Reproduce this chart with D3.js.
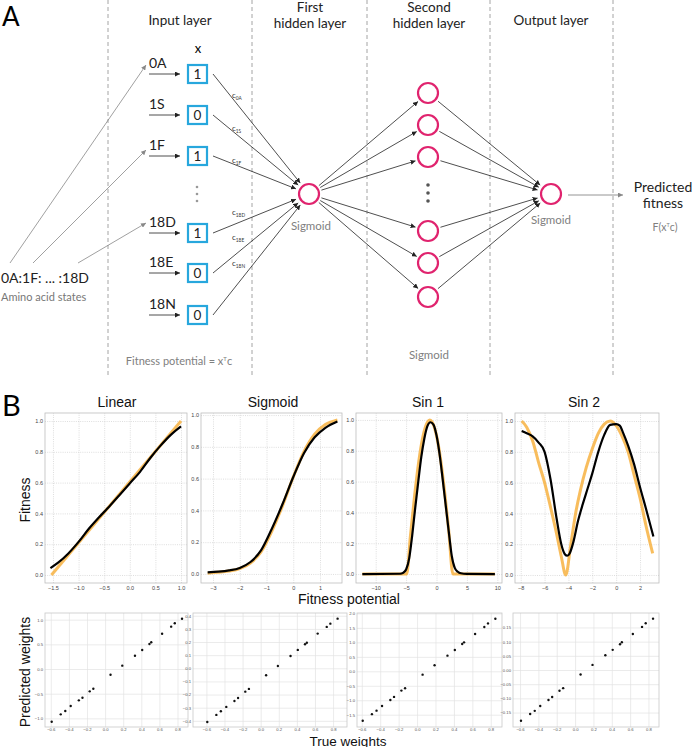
<!DOCTYPE html>
<html><head><meta charset="utf-8">
<script src="https://cdn.jsdelivr.net/npm/d3@7"></script>
<style>body{margin:0;background:#fff}svg{display:block}</style>
</head><body>
<script>
// ---------------- DATA ----------------
const layerTitles = [["Input layer"],["First","hidden layer"],["Second","hidden layer"],["Output layer"]];
const inputStates = ["0A","1S","1F","18D","18E","18N"];
const inputValues = [1,0,1,1,0,0];
const weightLabels = ["0A","1S","1F","18D","18E","18N"];
const hidden2Count = 6;

const panelTitles = ["Linear","Sigmoid","Sin 1","Sin 2"];
// Linear
const linX    = [-1.53, 1.0];
const linTrue = [0.0, 1.0];
const linPX   = [-1.55,-1.4,-1.2,-1.0,-0.8,-0.6,-0.4,-0.2,0.0,0.2,0.4,0.6,0.8,1.0];
const linPred = [0.045,0.08,0.14,0.215,0.30,0.375,0.445,0.52,0.595,0.67,0.76,0.84,0.91,0.965];
// Sigmoid
const sigX    = [-3.2,-2.8,-2.4,-2.0,-1.6,-1.2,-0.8,-0.4,0.0,0.4,0.8,1.2,1.65];
const sigTrue = [0.005,0.01,0.018,0.033,0.068,0.14,0.27,0.43,0.61,0.77,0.88,0.94,0.97];
const sigPred = [0.01,0.014,0.022,0.038,0.075,0.15,0.285,0.44,0.61,0.76,0.86,0.92,0.96];
// Sin 1
const s1TX    = [-12.2,-4.9,-4.3,-3.6,-2.9,-2.2,-1.5,-1.1,-0.7,0.0,0.7,1.4,2.0,2.7,9.6];
const s1True  = [0,0,0.245,0.51,0.736,0.898,0.985,1.0,0.985,0.898,0.736,0.51,0.285,0,0];
const s1PX    = [-12.2,-6,-5.5,-5,-4.5,-4,-3.5,-3,-2.5,-2,-1.5,-1,-0.5,0,0.5,1,1.5,2,2.5,3,3.5,4,5,9.6];
const s1Pred  = [0,0.002,0.008,0.03,0.1,0.25,0.43,0.6,0.76,0.88,0.96,0.985,0.97,0.9,0.78,0.62,0.45,0.28,0.12,0.04,0.015,0.005,0.001,0];
// Sin 2
const s2TX    = [-7.92,-7.5,-7.0,-6.5,-6.0,-5.5,-5.0,-4.6,-4.23,-3.8,-3.4,-3.0,-2.5,-2.0,-1.5,-1.0,-0.5,0.0,0.5,1.0,1.5,2.0,2.5,3.06];
const s2True  = [1.0,0.96,0.87,0.73,0.6,0.44,0.27,0.12,0.0,0.2,0.4,0.55,0.7,0.82,0.92,0.98,1.0,0.97,0.9,0.8,0.65,0.5,0.32,0.14];
const s2PX    = [-7.92,-7.5,-7.0,-6.5,-6.0,-5.5,-5.0,-4.6,-4.3,-4.1,-3.9,-3.6,-3.2,-2.8,-2.4,-2.0,-1.5,-1.0,-0.5,0.0,0.3,0.6,1.0,1.5,2.0,2.5,3.12];
const s2Pred  = [0.935,0.92,0.9,0.86,0.8,0.62,0.37,0.2,0.135,0.125,0.14,0.21,0.35,0.46,0.56,0.66,0.8,0.91,0.975,0.98,0.97,0.92,0.84,0.72,0.57,0.43,0.25];

const fitXDomains = [[-1.656,1.117],[-3.449,1.822],[-13.24,10.77],[-8.48,3.59]];
const fitYDomains = [[-0.052,1.052],[-0.057,1.013],[-0.058,1.045],[-0.052,1.052]];
const fitXTicks = [[-1.5,-1.0,-0.5,0.0,0.5,1.0],[-3,-2,-1,0,1],[-10,-5,0,5,10],[-8,-6,-4,-2,0,2]];
const fitYTicks = [0.0,0.2,0.4,0.6,0.8,1.0];

// Weights
const trueWeights = [-0.59,-0.49,-0.44,-0.38,-0.29,-0.25,-0.17,-0.13,0.06,0.19,0.33,0.41,0.49,0.51,0.63,0.73,0.77,0.85];
const predLinear  = [-1.068,-0.919,-0.851,-0.750,-0.635,-0.581,-0.453,-0.399,-0.115,0.068,0.270,0.385,0.507,0.541,0.716,0.858,0.926,1.020];
const predSigmoid = [-0.409,-0.355,-0.327,-0.294,-0.249,-0.226,-0.178,-0.157,-0.053,0.018,0.094,0.140,0.183,0.195,0.264,0.315,0.340,0.378];
const predSin1    = [-1.71,-1.48,-1.36,-1.20,-0.99,-0.885,-0.667,-0.586,-0.115,0.207,0.540,0.736,0.943,1.0,1.287,1.529,1.655,1.816];
const predSin2    = [-0.179,-0.155,-0.144,-0.127,-0.106,-0.095,-0.073,-0.064,-0.016,0.018,0.052,0.071,0.091,0.098,0.127,0.152,0.165,0.181];
const wXDomains = [[-0.664,0.916],[-0.748,0.954],[-0.652,0.922],[-0.677,0.915]];
const wYDomains = [[-1.175,1.135],[-0.447,0.421],[-1.924,2.014],[-0.201,0.201]];
const wXTicks = [-0.6,-0.4,-0.2,0.0,0.2,0.4,0.6,0.8];
const wYTicks = [[-1.0,-0.5,0.0,0.5,1.0],[-0.4,-0.3,-0.2,-0.1,0.0,0.1,0.2,0.3,0.4],[-1.5,-1.0,-0.5,0.0,0.5,1.0,1.5,2.0],[-0.15,-0.10,-0.05,0.0,0.05,0.10,0.15]];
const wYFormats = [".1f",".1f",".1f",".2f"];

// ---------------- DRAW ----------------
const W=693,H=747;
const svg=d3.select("body").append("svg").attr("width",W).attr("height",H);
const FA="Lato, 'Noto Sans', sans-serif";
const FB="'Liberation Sans', Arial, sans-serif";
const defs=svg.append("defs");
function marker(id,color){
  defs.append("marker").attr("id",id).attr("viewBox","0 0 6 6").attr("refX",6).attr("refY",3)
   .attr("markerWidth",5).attr("markerHeight",5).attr("markerUnits","userSpaceOnUse").attr("orient","auto")
   .append("path").attr("d","M0,0L6,3L0,6z").attr("fill",color);
}
marker("ab","#222"); marker("ag","#888");

// Panel A
svg.append("text").attr("x",2).attr("y",26).attr("font-family",FA).attr("font-size",26).text("A");
const dashX=[108,252,367,490,613];
svg.selectAll(".dash").data(dashX).join("line").attr("x1",d=>d).attr("x2",d=>d).attr("y1",0).attr("y2",376)
  .attr("stroke","#9a9a9a").attr("stroke-width",0.9).attr("stroke-dasharray","4,3");
const titleX=[180,310,429,551];
layerTitles.forEach((t,i)=>{
  const tx=svg.append("text").attr("font-family",FA).attr("font-size",13.5).attr("fill","#222").attr("text-anchor","middle");
  if(t.length===1) tx.append("tspan").attr("x",titleX[i]).attr("y",25).text(t[0]);
  else { tx.append("tspan").attr("x",titleX[i]).attr("y",12).text(t[0]); tx.append("tspan").attr("x",titleX[i]).attr("y",28).text(t[1]); }
});
svg.append("text").attr("x",198).attr("y",53).attr("text-anchor","middle").attr("font-family",FA).attr("font-size",13).text("x");

const rowY=d3.scaleOrdinal().domain(inputStates).range([74,115,156,233,273,315]);
const boxX=188, boxW=19, boxH=18;
const h1={x:309,y:194}, out={x:551,y:194}, r=10;
const h2Y=d3.scaleOrdinal().domain(d3.range(hidden2Count)).range([93,125,157,231,263,297]);
const h2X=428;

inputStates.forEach((s,i)=>{
  const y=rowY(s);
  svg.append("text").attr("x",149).attr("y",y-6).attr("font-family",FA).attr("font-size",14).attr("fill","#222").text(s);
  svg.append("line").attr("x1",149).attr("x2",180).attr("y1",y).attr("y2",y).attr("stroke","#222").attr("stroke-width",0.8).attr("marker-end","url(#ab)");
  svg.append("rect").attr("x",boxX).attr("y",y-boxH/2).attr("width",boxW).attr("height",boxH).attr("fill","#fff").attr("stroke","#27a7dd").attr("stroke-width",2.2);
  svg.append("text").attr("x",boxX+boxW/2).attr("y",y+5).attr("text-anchor","middle").attr("font-family",FA).attr("font-size",13.5).attr("fill","#222").text(inputValues[i]);
  const x1=boxX+boxW+6, y1=y;
  const dx=h1.x-x1, dy=h1.y-y1, L=Math.hypot(dx,dy);
  svg.append("line").attr("x1",x1).attr("y1",y1).attr("x2",h1.x-dx/L*(r+4)).attr("y2",h1.y-dy/L*(r+4))
    .attr("stroke","#222").attr("stroke-width",0.8).attr("marker-end","url(#ab)");
});
const wlY=[98,131,163,215,240,266];
weightLabels.forEach((w,i)=>{
  const t=svg.append("text").attr("x",232).attr("y",wlY[i]).attr("font-family",FA).attr("font-size",8).attr("fill","#333");
  t.append("tspan").text("c");
  t.append("tspan").attr("dy",1.5).attr("font-size",4.8).text(w);
});
svg.selectAll(".idot").data([187,194,201]).join("circle").attr("cx",197).attr("cy",d=>d).attr("r",1.3).attr("fill","#999");
const aaStart=[[10,263],[33,263],[78,263]], aaEnd=[[146,65],[146,150],[146,223]];
aaStart.forEach((p,i)=>svg.append("line").attr("x1",p[0]).attr("y1",p[1]).attr("x2",aaEnd[i][0]).attr("y2",aaEnd[i][1])
  .attr("stroke","#777").attr("stroke-width",0.7).attr("marker-end","url(#ag)"));
svg.append("text").attr("x",1).attr("y",283).attr("font-family",FA).attr("font-size",14).attr("fill","#222").text("0A:1F: ... :18D");
svg.append("text").attr("x",1).attr("y",301).attr("font-family",FA).attr("font-size",11).attr("fill","#777").text("Amino acid states");
function node(x,y){svg.append("circle").attr("cx",x).attr("cy",y).attr("r",r).attr("fill","#fff").attr("stroke","#e0236e").attr("stroke-width",2.2);}
d3.range(hidden2Count).forEach(k=>{
  const y=h2Y(k);
  let dx=h2X-h1.x, dy=y-h1.y, L=Math.hypot(dx,dy);
  svg.append("line").attr("x1",h1.x+dx/L*(r+3)).attr("y1",h1.y+dy/L*(r+3)).attr("x2",h2X-dx/L*(r+3)).attr("y2",y-dy/L*(r+3))
    .attr("stroke","#222").attr("stroke-width",0.8).attr("marker-end","url(#ab)");
  dx=out.x-h2X; dy=out.y-y; L=Math.hypot(dx,dy);
  svg.append("line").attr("x1",h2X+dx/L*(r+3)).attr("y1",y+dy/L*(r+3)).attr("x2",out.x-dx/L*(r+4)).attr("y2",out.y-dy/L*(r+4))
    .attr("stroke","#222").attr("stroke-width",0.8).attr("marker-end","url(#ab)");
});
node(h1.x,h1.y); node(out.x,out.y);
d3.range(hidden2Count).forEach(k=>node(h2X,h2Y(k)));
svg.selectAll(".hdot").data([185,193,201]).join("circle").attr("cx",h2X).attr("cy",d=>d).attr("r",1.8).attr("fill","#555");
const gray=(x,y,s,sz)=>svg.append("text").attr("x",x).attr("y",y).attr("text-anchor","middle").attr("font-family",FA).attr("font-size",sz||11.5).attr("fill","#808080").text(s);
gray(311,230,"Sigmoid"); gray(429,359,"Sigmoid"); gray(551,224,"Sigmoid");
const fp=svg.append("text").attr("x",179).attr("y",365).attr("text-anchor","middle").attr("font-family",FA).attr("font-size",11).attr("fill","#808080");
fp.append("tspan").text("Fitness potential = x"); fp.append("tspan").attr("dy",-4).attr("font-size",6).text("T"); fp.append("tspan").attr("dy",4).text("c");
svg.append("line").attr("x1",568).attr("x2",623).attr("y1",195).attr("y2",195).attr("stroke","#888").attr("stroke-width",0.9).attr("marker-end","url(#ag)");
svg.append("text").attr("x",663).attr("y",192).attr("text-anchor","middle").attr("font-family",FA).attr("font-size",14).attr("fill","#222").text("Predicted");
svg.append("text").attr("x",663).attr("y",208).attr("text-anchor","middle").attr("font-family",FA).attr("font-size",14).attr("fill","#222").text("fitness");
const ff=svg.append("text").attr("x",665).attr("y",231).attr("text-anchor","middle").attr("font-family",FA).attr("font-size",10.5).attr("fill","#808080");
ff.append("tspan").text("F(x"); ff.append("tspan").attr("dy",-4).attr("font-size",5.5).text("T"); ff.append("tspan").attr("dy",4).text("c)");

// Panel B
svg.append("text").attr("x",2).attr("y",416).attr("font-family",FA).attr("font-size",29).text("B");
const fitFrames=[[45,187],[201,342],[356,502],[515,659]];
const titleBX=[117,273,428,584];
const fitSeries=[[linX,linTrue,linPX,linPred],[sigX,sigTrue,sigX,sigPred],[s1TX,s1True,s1PX,s1Pred],[s2TX,s2True,s2PX,s2Pred]];
const mfmt=f=>(v=>d3.format(f)(v).replace("-","\u2212"));
const fT=413,fB=583;
fitFrames.forEach((fr,i)=>{
  svg.append("text").attr("x",titleBX[i]).attr("y",407).attr("text-anchor","middle").attr("font-family",FB).attr("font-size",14).attr("fill","#111").text(panelTitles[i]);
  const x=d3.scaleLinear().domain(fitXDomains[i]).range(fr);
  const y=d3.scaleLinear().domain(fitYDomains[i]).range([fB,fT]);
  const g=svg.append("g");
  const gx=g.append("g").attr("transform",`translate(0,${fB})`).call(d3.axisBottom(x).tickValues(fitXTicks[i]).tickSize(-(fB-fT)).tickPadding(2).tickFormat(mfmt(i<1?".1f":"d")));
  const gy=g.append("g").attr("transform",`translate(${fr[0]},0)`).call(d3.axisLeft(y).tickValues(fitYTicks).tickSize(-(fr[1]-fr[0])).tickPadding(2).tickFormat(mfmt(".1f")));
  [gx,gy].forEach(a=>{a.select(".domain").remove();
    a.selectAll("line").attr("stroke","#c8c8c8").attr("stroke-width",0.6).attr("stroke-dasharray","1,1.2");
    a.selectAll("text").attr("font-family",FB).attr("font-size",5.5).attr("fill","#444");});
  gx.selectAll("text").attr("dy","0.9em").attr("y",2); gy.selectAll("text").attr("x",-2);
  g.append("rect").attr("x",fr[0]).attr("y",fT).attr("width",fr[1]-fr[0]).attr("height",fB-fT).attr("fill","none").attr("stroke","#bdbdbd").attr("stroke-width",0.8);
  const s=fitSeries[i];
  const line=(xs,ys,c)=>d3.line().x((d,j)=>x(xs[j])).y(d=>y(d)).curve(c)(ys);
  g.append("path").attr("d",line(s[0],s[1],i===0?d3.curveLinear:d3.curveMonotoneX)).attr("fill","none").attr("stroke","#f7b241").attr("stroke-width",3).attr("stroke-opacity",0.85);
  g.append("path").attr("d",line(s[2],s[3],d3.curveMonotoneX)).attr("fill","none").attr("stroke","#000").attr("stroke-width",2.2);
});
svg.append("text").attr("transform","translate(30,500) rotate(-90)").attr("text-anchor","middle").attr("font-family",FB).attr("font-size",14).attr("fill","#111").text("Fitness");
svg.append("text").attr("x",349).attr("y",604).attr("text-anchor","middle").attr("font-family",FB).attr("font-size",14).attr("fill","#111").text("Fitness potential");

// weights
const wFrames=[[45,188],[193,347],[357,502],[513,659]];
const wT=613,wB=727;
const preds=[predLinear,predSigmoid,predSin1,predSin2];
wFrames.forEach((fr,i)=>{
  const x=d3.scaleLinear().domain(wXDomains[i]).range(fr);
  const y=d3.scaleLinear().domain(wYDomains[i]).range([wB,wT]);
  const g=svg.append("g");
  const gx=g.append("g").attr("transform",`translate(0,${wB})`).call(d3.axisBottom(x).tickValues(wXTicks).tickSize(-(wB-wT)).tickFormat(mfmt(".1f")));
  const gy=g.append("g").attr("transform",`translate(${fr[0]},0)`).call(d3.axisLeft(y).tickValues(wYTicks[i]).tickSize(-(fr[1]-fr[0])).tickFormat(mfmt(wYFormats[i])));
  [gx,gy].forEach(a=>{a.select(".domain").remove();
    a.selectAll("line").attr("stroke","#e2e2e2").attr("stroke-width",0.7);
    a.selectAll("text").attr("font-family",FB).attr("font-size",4.2).attr("fill","#555");});
  gx.selectAll("text").attr("y",0.5).attr("dy","0.8em"); gy.selectAll("text").attr("x",-2);
  g.append("rect").attr("x",fr[0]).attr("y",wT).attr("width",fr[1]-fr[0]).attr("height",wB-wT).attr("fill","none").attr("stroke","#c8c8c8").attr("stroke-width",0.8);
  g.selectAll("circle").data(trueWeights).join("circle").attr("cx",d=>x(d)).attr("cy",(d,j)=>y(preds[i][j])).attr("r",1.2).attr("fill","#111");
});
svg.append("text").attr("transform","translate(30,672) rotate(-90)").attr("text-anchor","middle").attr("font-family",FB).attr("font-size",14).attr("fill","#111").text("Predicted weights");
svg.append("text").attr("x",348).attr("y",745.5).attr("text-anchor","middle").attr("font-family",FB).attr("font-size",13.5).attr("fill","#111").text("True weights");
</script>
</body></html>
